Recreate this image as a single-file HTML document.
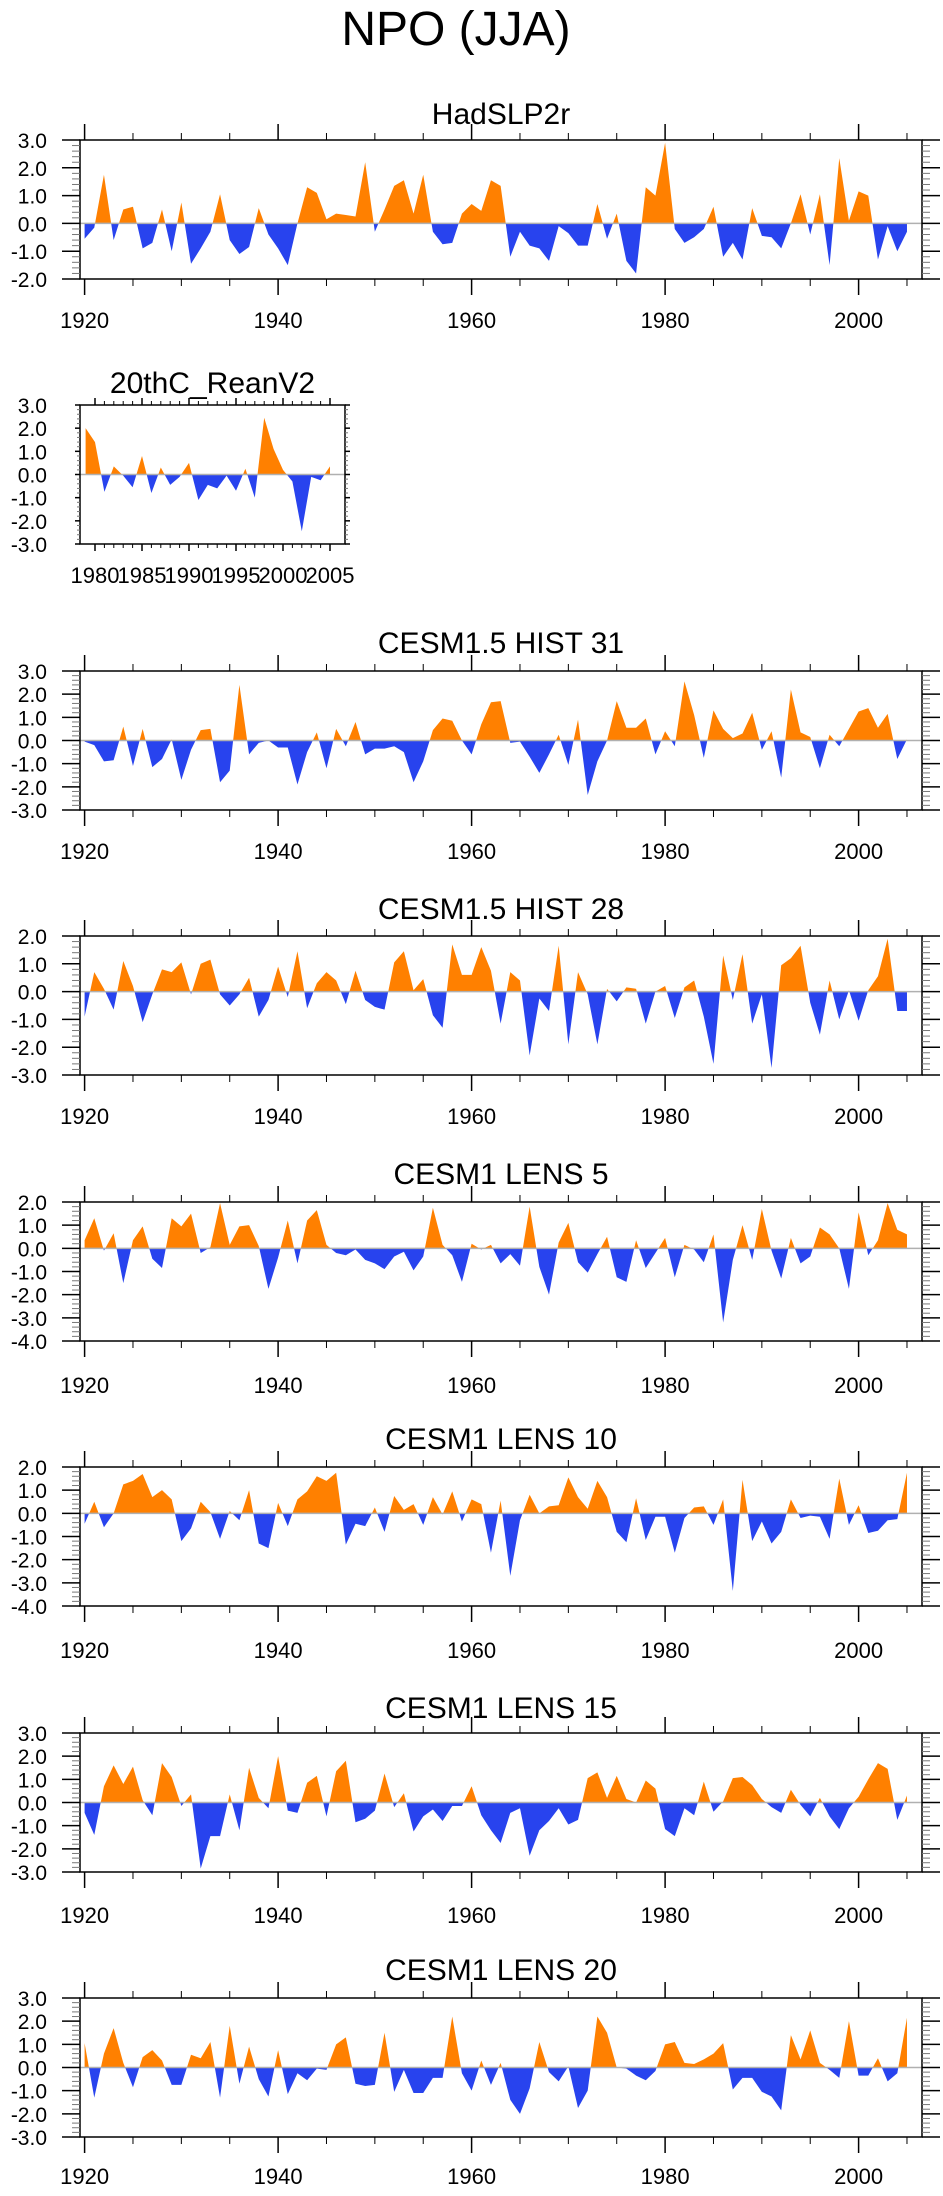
<!DOCTYPE html>
<html><head><meta charset="utf-8"><title>NPO (JJA)</title>
<style>
html,body{margin:0;padding:0;background:#fff;}
svg{display:block;font-family:"Liberation Sans",Arial,sans-serif;}
</style></head>
<body>
<svg id="chart" width="943" height="2196" viewBox="0 0 943 2196" xmlns="http://www.w3.org/2000/svg">
<text x="456" y="45" font-size="48" text-anchor="middle" fill="#000">NPO (JJA)</text>
</svg>
<script>
const hadYears0 = 1920;
const hadVals = [-0.55,-0.15,1.75,-0.6,0.5,0.6,-0.9,-0.7,0.5,-1.0,0.75,-1.45,-0.9,-0.3,1.05,-0.6,-1.1,-0.85,0.55,-0.4,-0.9,-1.5,0.0,1.3,1.1,0.15,0.35,0.3,0.25,2.2,-0.3,0.5,1.35,1.55,0.35,1.75,-0.3,-0.75,-0.7,0.35,0.7,0.45,1.55,1.35,-1.2,-0.3,-0.8,-0.9,-1.35,-0.1,-0.35,-0.8,-0.8,0.7,-0.55,0.35,-1.35,-1.8,1.3,1.0,2.9,-0.2,-0.7,-0.5,-0.2,0.6,-1.2,-0.7,-1.3,0.55,-0.45,-0.5,-0.9,0.0,1.05,-0.4,1.05,-1.5,2.35,0.1,1.15,1.0,-1.3,-0.1,-1.0,-0.3];
const reanYears0 = 1979;
const reanVals = [2.0,1.4,-0.75,0.35,-0.05,-0.55,0.8,-0.8,0.3,-0.45,-0.1,0.5,-1.1,-0.45,-0.6,-0.05,-0.7,0.25,-1.0,2.45,1.1,0.2,-0.3,-2.45,-0.1,-0.25,0.35];
const h31Vals = [-0.05,-0.2,-0.9,-0.85,0.6,-1.1,0.5,-1.15,-0.8,0.05,-1.7,-0.4,0.45,0.5,-1.8,-1.3,2.4,-0.6,-0.1,0.0,-0.3,-0.3,-1.9,-0.5,0.35,-1.2,0.5,-0.25,0.8,-0.6,-0.35,-0.35,-0.25,-0.5,-1.8,-0.9,0.45,0.95,0.85,0.0,-0.6,0.7,1.65,1.7,-0.1,-0.05,-0.7,-1.4,-0.6,0.25,-1.05,0.9,-2.35,-0.9,0.0,1.7,0.55,0.55,0.95,-0.6,0.4,-0.25,2.55,1.1,-0.75,1.3,0.5,0.1,0.3,1.2,-0.4,0.4,-1.6,2.2,0.35,0.15,-1.2,0.25,-0.25,0.5,1.25,1.4,0.55,1.15,-0.8,0.05];
const h28Vals = [-0.9,0.7,0.1,-0.65,1.1,0.2,-1.1,-0.1,0.8,0.7,1.05,-0.1,1.0,1.15,-0.1,-0.5,-0.1,0.5,-0.9,-0.3,0.9,-0.2,1.45,-0.6,0.3,0.7,0.4,-0.45,0.75,-0.3,-0.55,-0.65,1.05,1.45,0.05,0.45,-0.85,-1.3,1.7,0.6,0.6,1.6,0.75,-1.15,0.7,0.4,-2.3,-0.25,-0.7,1.65,-1.9,0.7,-0.1,-1.9,0.1,-0.35,0.15,0.1,-1.15,0.0,0.2,-0.95,0.15,0.4,-0.9,-2.6,1.3,-0.3,1.35,-1.15,-0.1,-2.75,0.95,1.2,1.65,-0.4,-1.55,0.4,-1.0,0.05,-1.05,0.05,0.55,1.9,-0.7,-0.7];
const l5Vals = [0.35,1.3,-0.1,0.65,-1.5,0.35,0.95,-0.45,-0.85,1.3,0.95,1.5,-0.2,0.05,1.95,0.15,0.95,1.0,0.1,-1.75,-0.4,1.2,-0.65,1.2,1.65,0.15,-0.2,-0.3,-0.05,-0.5,-0.65,-0.9,-0.35,-0.15,-0.95,-0.35,1.75,0.15,-0.3,-1.45,0.2,-0.05,0.15,-0.65,-0.25,-0.75,1.8,-0.8,-2.0,0.25,1.1,-0.6,-1.05,-0.25,0.5,-1.25,-1.45,0.35,-0.85,-0.2,0.45,-1.25,0.15,-0.05,-0.6,0.6,-3.2,-0.5,1.0,-0.5,1.7,-0.1,-1.3,0.45,-0.65,-0.35,0.9,0.6,0.0,-1.75,1.55,-0.3,0.35,1.95,0.8,0.6];
const l10Vals = [-0.45,0.5,-0.6,0.0,1.25,1.4,1.7,0.7,1.0,0.6,-1.2,-0.65,0.5,0.05,-1.1,0.1,-0.3,1.0,-1.3,-1.5,0.45,-0.55,0.6,0.95,1.6,1.4,1.75,-1.35,-0.45,-0.55,0.25,-0.8,0.75,0.15,0.4,-0.5,0.7,-0.05,0.95,-0.35,0.6,0.4,-1.7,0.55,-2.7,-0.3,0.8,0.0,0.3,0.35,1.55,0.7,0.2,1.4,0.7,-0.8,-1.25,0.65,-1.15,-0.15,-0.15,-1.7,-0.2,0.25,0.3,-0.5,0.6,-3.35,1.45,-1.2,-0.35,-1.3,-0.8,0.6,-0.2,-0.1,-0.15,-1.1,1.5,-0.5,0.35,-0.85,-0.75,-0.3,-0.25,1.75];
const l15Vals = [-0.45,-1.4,0.7,1.6,0.8,1.55,0.1,-0.55,1.7,1.1,-0.15,0.35,-2.85,-1.45,-1.45,0.35,-1.2,1.5,0.2,-0.25,2.0,-0.35,-0.45,0.85,1.15,-0.6,1.35,1.8,-0.85,-0.7,-0.35,1.25,-0.2,0.4,-1.25,-0.6,-0.3,-0.8,-0.15,-0.15,0.7,-0.55,-1.2,-1.75,-0.45,-0.25,-2.3,-1.2,-0.8,-0.25,-0.95,-0.75,1.05,1.3,0.2,1.15,0.15,0.0,0.95,0.6,-1.15,-1.45,-0.25,-0.55,0.9,-0.4,0.05,1.05,1.1,0.75,0.15,-0.2,-0.45,0.55,-0.1,-0.6,0.2,-0.6,-1.15,-0.25,0.25,1.0,1.7,1.45,-0.75,0.3];
const l20Vals = [1.05,-1.3,0.6,1.7,0.2,-0.85,0.45,0.75,0.3,-0.75,-0.75,0.55,0.4,1.1,-1.3,1.8,-0.7,0.9,-0.5,-1.25,0.75,-1.15,-0.25,-0.55,-0.05,-0.1,1.0,1.3,-0.7,-0.8,-0.75,1.5,-1.05,-0.1,-1.1,-1.1,-0.45,-0.45,2.2,-0.25,-1.0,0.3,-0.75,0.2,-1.4,-2.0,-0.9,1.1,-0.2,-0.6,0.05,-1.75,-1.0,2.2,1.5,0.0,-0.05,-0.35,-0.55,-0.15,1.0,1.1,0.2,0.15,0.35,0.6,1.05,-0.95,-0.45,-0.45,-1.05,-1.25,-1.85,1.4,0.35,1.6,0.2,-0.1,-0.45,2.0,-0.35,-0.35,0.4,-0.6,-0.25,2.15];
const longXLabels = ["1920","1940","1960","1980","2000"];
const shortXLabels = ["1980","1985","1990","1995","2000","2005"];

const NS = "http://www.w3.org/2000/svg";
const svg = document.getElementById('chart');
function mk(tag, attrs, parent){
  const e = document.createElementNS(NS, tag);
  for (const k in attrs) e.setAttribute(k, attrs[k]);
  (parent||svg).appendChild(e);
  return e;
}
let clipId = 0;
function panel(cfg){
  const g = mk('g', {});
  
  
  const L = cfg.left, R = cfg.right, T = cfg.top, B = cfg.bot;
  const xs = yr => cfg.x0 + (yr - cfg.yr0) * cfg.dx;
  const ys = v => T + (cfg.ymax - v) / (cfg.ymax - cfg.ymin) * (B - T);
  const y0 = ys(0);
  const t = mk('text', {x:(L+R)/2, y:cfg.titleY+11, 'font-size':30, 'text-anchor':'middle', fill:'#000'}, g);
  t.textContent = cfg.title;
  
  
  const n = cfg.vals.length;
  let pts = xs(cfg.start).toFixed(2) + ',' + y0.toFixed(2) + ' ';
  for (let i = 0; i < n; i++) pts += xs(cfg.start + i).toFixed(2) + ',' + ys(cfg.vals[i]).toFixed(2) + ' ';
  pts += xs(cfg.start + n - 1).toFixed(2) + ',' + y0.toFixed(2);
  const id1 = 'c' + (clipId++), id2 = 'c' + (clipId++);
  const defs = mk('defs', {}, g);
  const cp1 = mk('clipPath', {id:id1}, defs); mk('rect', {x:L, y:T, width:R-L, height:y0-T}, cp1);
  const cp2 = mk('clipPath', {id:id2}, defs); mk('rect', {x:L, y:y0, width:R-L, height:B-y0}, cp2);
  const pos = mk('polygon', {points:pts, fill:'#FF8000', 'clip-path':'url(#'+id1+')'}, g);
  
  
  const neg = mk('polygon', {points:pts, fill:'#2843EE', 'clip-path':'url(#'+id2+')'}, g);
  
  
  const zl = mk('line', {x1:L, x2:R, y1:y0, y2:y0, stroke:'#b0b0b0', 'stroke-width':1.5}, g);
  
  
  const fr = mk('rect', {x:L, y:T, width:R-L, height:B-T, fill:'none', stroke:'#000', 'stroke-width':1.5}, g);
  
  
  for (let k = Math.round(cfg.ymin*5); k <= Math.round(cfg.ymax*5); k++){
    const v = k/5, y = ys(v), major = (k % 5 === 0);
    const len = major ? cfg.yMaj : cfg.yMin;
    mk('line', {x1:L-len, x2:L, y1:y, y2:y, stroke: major?'#000':'#777', 'stroke-width': major?1.5:1}, g);
    mk('line', {x1:R, x2:R+len, y1:y, y2:y, stroke: major?'#000':'#777', 'stroke-width': major?1.5:1}, g);
    if (major){
      const lb = mk('text', {x:cfg.ylabX, y:y+8, 'font-size':21, 'text-anchor':'end', fill:'#000'}, g);
      lb.textContent = v.toFixed(1);
      
      
    }
  }
  for (let yr = cfg.tickFrom; yr <= cfg.tickTo; yr += cfg.tickStep){
    const x = xs(yr), major = ((yr - cfg.tickFrom) % cfg.majStep === 0);
    const len = major ? cfg.xMaj : cfg.xMin;
    mk('line', {x1:x, x2:x, y1:T-len, y2:T, stroke:'#000', 'stroke-width': major?1.5:1}, g);
    mk('line', {x1:x, x2:x, y1:B, y2:B+len, stroke:'#000', 'stroke-width': major?1.5:1}, g);
  }
  cfg.labels.forEach(s => {
    const lb = mk('text', {x:xs(+s), y:cfg.labY+8, 'font-size':cfg.labFont, 'text-anchor':'middle', fill:'#000'}, g);
    lb.textContent = s;
    
    
  });
}
const base = {left:80, right:922, x0:84.6, yr0:1920, dx:9.675, start:1920, yMaj:18, yMin:8, ylabX:47,
  tickFrom:1920, tickTo:2005, tickStep:5, majStep:20, xMaj:16, xMin:7, labels:longXLabels, labFont:22};
panel(Object.assign({}, base, {name:'hadslp2r', title:'HadSLP2r', vals:hadVals, start:hadYears0, top:140, bot:279, ymax:3, ymin:-2, titleY:113, labY:320}));
panel(Object.assign({}, base, {name:'reanv2', title:'20thC_ReanV2', vals:reanVals, start:reanYears0, left:80, right:345, x0:95, yr0:1980, dx:9.4,
  top:405, bot:544, ymax:3, ymin:-3, titleY:382, labY:575, tickFrom:1980, tickTo:2005, tickStep:1, majStep:5, xMaj:7, xMin:4, yMaj:5, yMin:3, labels:shortXLabels, labFont:22}));
panel(Object.assign({}, base, {name:'hist31', title:'CESM1.5 HIST 31', vals:h31Vals, top:671, bot:810, ymax:3, ymin:-3, titleY:642, labY:851}));
panel(Object.assign({}, base, {name:'hist28', title:'CESM1.5 HIST 28', vals:h28Vals, top:936, bot:1075, ymax:2, ymin:-3, titleY:908, labY:1116}));
panel(Object.assign({}, base, {name:'lens5', title:'CESM1 LENS 5', vals:l5Vals, top:1202, bot:1341, ymax:2, ymin:-4, titleY:1173, labY:1385}));
panel(Object.assign({}, base, {name:'lens10', title:'CESM1 LENS 10', vals:l10Vals, top:1467, bot:1606, ymax:2, ymin:-4, titleY:1438, labY:1650}));
panel(Object.assign({}, base, {name:'lens15', title:'CESM1 LENS 15', vals:l15Vals, top:1733, bot:1872, ymax:3, ymin:-3, titleY:1707, labY:1915}));
panel(Object.assign({}, base, {name:'lens20', title:'CESM1 LENS 20', vals:l20Vals, top:1998, bot:2137, ymax:3, ymin:-3, titleY:1969, labY:2176}));
</script>
</body></html>
